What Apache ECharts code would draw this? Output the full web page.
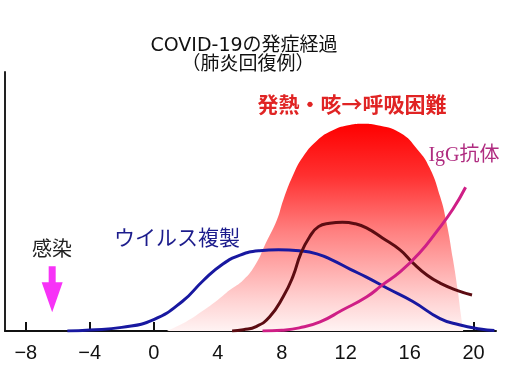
<!DOCTYPE html>
<html>
<head>
<meta charset="utf-8">
<script src="https://cdn.jsdelivr.net/npm/echarts@6/dist/echarts.min.js"></script>
<style>
html,body{margin:0;padding:0;background:#fff;}
#chart{width:505px;height:372px;}
</style>
</head>
<body>
<div id="chart"></div>
<script>
// ---- data (days from symptom onset, relative level) ----
const tickDays = [-8, -4, 0, 4, 8, 12, 16, 20];

const symptomX = [0.8, 2.0, 3.0, 4.0, 4.75, 5.6, 6.4, 7.0, 7.7, 8.1, 8.7, 9.3, 10.2, 11.2, 12.25, 13.1, 13.9, 15.4, 16.5, 17.25, 17.9, 18.3, 18.7, 19.0, 19.2, 19.35];
const symptomY = [0, 3.5, 7.5, 12, 15.8, 19.7, 26.1, 33.9, 42.9, 50.6, 60, 67, 73.5, 77.5, 79.5, 80, 79.5, 76.5, 70, 63, 52, 42, 28, 16, 6.5, 0];

const virusX = [-5.4, -4, -2, 0, 1.8, 3.1, 4.3, 5.4, 6.6, 7.8, 9.1, 10.2, 11.2, 12.3, 13.3, 14.6, 16.2, 17.9, 19.1, 20.4, 21.3];
const virusY = [0, 0.4, 1.4, 4.4, 11.5, 19.5, 25.8, 29.3, 31.0, 31.4, 31.0, 29.8, 27.3, 23.8, 20.8, 16.5, 11.4, 4.8, 2.4, 0.8, 0.2];

const igmX = [4.9, 5.6, 6.4, 7.25, 8.1, 8.7, 9.2, 9.75, 10.3, 11.0, 11.8, 12.6, 13.3, 14.3, 15.4, 16.2, 17.1, 17.9, 19.0, 19.9];
const igmY = [0, 0.5, 1.7, 5.5, 13.3, 21, 30, 36.4, 40.3, 41.6, 42, 41.4, 39.8, 35.9, 31.3, 26.3, 21.5, 18.5, 15.6, 13.9];

const iggX = [6.8, 8.0, 9.1, 10.4, 11.8, 13.3, 14.3, 15.4, 16.6, 17.7, 18.7, 19.5];
const iggY = [0, 0.3, 1.2, 3.5, 8.1, 13.1, 17.8, 22.8, 30, 38.5, 47, 55.5];

const infectionX = [-6.35];
const infectionY = [16.1];

const titleLines = ['COVID-19の発症経過', '（肺炎回復例）'];
const labelSymptom = '発熱・咳→呼吸困難';
const labelVirus = 'ウイルス複製';
const labelInfection = '感染';
const labelIgM = 'IgM抗体';
const labelIgG = 'IgG抗体';

const pairs = (xs, ys) => xs.map((x, i) => [x, ys[i]]);

const chart = echarts.init(document.getElementById('chart'), null, {renderer: 'canvas'});
const CJK = "'Noto Sans CJK JP', 'Noto Sans', sans-serif";

chart.setOption({
  animation: false,
  backgroundColor: '#ffffff',
  grid: {left: 5, right: 9, top: 72, bottom: 41, containLabel: false, outerBoundsMode: 'none'},
  xAxis: {
    type: 'value',
    min: -9.3,
    max: 21.4,
    splitLine: {show: false},
    axisLine: {show: true, onZero: false, lineStyle: {color: '#111', width: 2}},
    axisTick: {show: true, inside: true, length: 9, customValues: tickDays, lineStyle: {color: '#111', width: 2}},
    axisLabel: {
      show: true, customValues: tickDays, margin: 12,
      color: '#111', fontSize: 20, fontFamily: "'Liberation Sans', Arial, sans-serif",
      formatter: v => String(v).replace('-', '\u2212')
    }
  },
  yAxis: {
    type: 'value',
    min: 0,
    max: 100,
    splitLine: {show: false},
    axisLine: {show: true, onZero: false, lineStyle: {color: '#222', width: 2}},
    axisTick: {show: false},
    axisLabel: {show: false}
  },
  series: [
    {
      type: 'line', name: labelSymptom,
      data: pairs(symptomX, symptomY),
      smooth: 0.5, showSymbol: false, z: 1,
      lineStyle: {width: 0},
      areaStyle: {
        opacity: 1,
        color: {
          type: 'linear', x: 0, y: 0, x2: 0, y2: 1,
          colorStops: [
            {offset: 0, color: '#ff0000'},
            {offset: 0.25, color: '#ff3030'},
            {offset: 0.52, color: '#ff8080'},
            {offset: 0.85, color: '#ffd2d2'},
            {offset: 1, color: '#fff3f3'}
          ]
        }
      }
    },
    {
      type: 'line', name: labelVirus,
      data: pairs(virusX, virusY),
      smooth: 0.5, showSymbol: false, z: 3,
      lineStyle: {width: 3, color: '#1818a0'}
    },
    {
      type: 'line', name: labelIgM,
      data: pairs(igmX, igmY),
      smooth: 0.5, showSymbol: false, z: 4,
      lineStyle: {width: 3, color: '#5c0c12'}
    },
    {
      type: 'line', name: labelIgG,
      data: pairs(iggX, iggY),
      smooth: 0.5, showSymbol: false, z: 5,
      lineStyle: {width: 3, color: '#cf1f86'}
    },
    {
      type: 'scatter', name: labelInfection,
      data: pairs(infectionX, infectionY),
      symbol: 'path://M7,0 L14,0 L14,16 L21,16 L10.5,46 L0,16 L7,16 Z',
      symbolSize: [21, 46],
      itemStyle: {color: '#f500f5'},
      z: 6
    }
  ],
  graphic: [
    {type: 'text', x: 244, y: 46, style: {text: titleLines[0], align: 'center', verticalAlign: 'middle', fill: '#111', font: "19px 'DejaVu Sans', 'Noto Sans CJK JP', sans-serif"}},
    {type: 'text', x: 248, y: 63, style: {text: titleLines[1], align: 'center', verticalAlign: 'middle', fill: '#111', font: "19px " + CJK}},
    {type: 'text', x: 352, y: 104, style: {text: labelSymptom, align: 'center', verticalAlign: 'middle', fill: '#e02424', font: "bold 21px " + CJK, shadowColor: 'rgba(255,100,100,0.6)', shadowBlur: 3}},
    {type: 'text', x: 177, y: 237, style: {text: labelVirus, align: 'center', verticalAlign: 'middle', fill: '#1c1c8c', font: "21px " + CJK}},
    {type: 'text', x: 52, y: 248, style: {text: labelInfection, align: 'center', verticalAlign: 'middle', fill: '#222', font: "20px " + CJK}},
    {type: 'text', x: 350, y: 203, style: {text: labelIgM, align: 'center', verticalAlign: 'middle', fill: '#5a1818', font: "20px 'Liberation Serif', " + CJK}},
    {type: 'text', x: 464, y: 156, style: {text: labelIgG, align: 'center', verticalAlign: 'middle', fill: '#b02c80', font: "20px 'Liberation Serif', " + CJK}}
  ]
});
</script>
</body>
</html>
